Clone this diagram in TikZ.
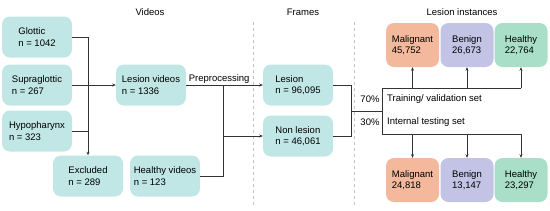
\documentclass[tikz,border=0pt]{standalone}
\usepackage{fontspec}
\setmainfont{Liberation Sans}
\usetikzlibrary{arrows.meta}
\definecolor{tealbox}{HTML}{C0E6E6}
\definecolor{malbox}{HTML}{F4B89C}
\definecolor{benbox}{HTML}{C3C3E6}
\definecolor{heabox}{HTML}{A9DEC9}
\tikzset{
  box/.style={fill=tealbox,rounded corners=8pt,align=left,minimum width=70pt,minimum height=41pt,inner sep=3pt},
  inst/.style={rounded corners=8pt,align=left,minimum width=53pt,minimum height=44pt,inner sep=3pt},
  link/.style={line width=0.8pt,draw=black!80},
  arr/.style={link,-{Stealth[length=3.5pt,width=3pt]}},
  sep/.style={draw=black!25,line width=0.9pt,dash pattern=on 3pt off 3pt},
  lbl/.style={inner sep=1pt}
}
\begin{document}
\begin{tikzpicture}[x=1pt,y=-1pt,font=\fontsize{9.5}{11.5}\selectfont]
\useasboundingbox (0,0) rectangle (550,210);
\draw[sep] (253,22)--(253,208);
\draw[sep] (354,22)--(354,208);
\node (tvid) at (150,12) {Videos};
\node (tfra) at (303,12) {Frames};
\node (tins) at (462,12) {Lesion instances};
\node[box] (glottic) at (37,37) {Glottic\\n = 1042};
\node[box] (supra) at (37,85) {Supraglottic\\n = 267};
\node[box] (hypo) at (37,131) {Hypopharynx\\n = 323};
\node[box] (excl) at (88,176) {Excluded\\n = 289};
\node[box] (lesv) at (151,85) {Lesion videos\\n = 1336};
\node[box] (heav) at (165,176) {Healthy videos\\n = 123};
\node[box] (lesf) at (298,85) {Lesion\\n = 96,095};
\node[box] (nonf) at (298,136) {Non lesion\\n = 46,061};
\node[inst,fill=malbox] (mal1) at (412.5,45) {Malignant\\45,752};
\node[inst,fill=benbox] (ben1) at (467,45) {Benign\\26,673};
\node[inst,fill=heabox] (hea1) at (521,45) {Healthy\\22,764};
\node[inst,fill=malbox] (mal2) at (412.5,180) {Malignant\\24,818};
\node[inst,fill=benbox] (ben2) at (467,180) {Benign\\13,147};
\node[inst,fill=heabox] (hea2) at (521,180) {Healthy\\23,297};
\draw[arr] (glottic.east) -| (excl.north);
\draw[link] (hypo.east) -- (hypo.east -| excl.north);
\draw[arr] (supra.east) -- (lesv.west);
\draw[arr] (lesv.east) -- node[lbl,above,pos=0.43] (prep) {Preprocessing} (lesf.west);
\coordinate (split) at (223,85);
\draw[link] (heav.east) -| (split);
\draw[arr] (split |- nonf.west) -- (nonf.west);
\coordinate (merge) at (351,111);
\draw[link] (lesf.east) -| (merge);
\draw[link] (nonf.east) -| (merge);
\coordinate (up) at (382,88);
\coordinate (down) at (382,134);
\draw[link] (merge) -- (up |- merge);
\draw[link] (hea1.south |- up) -- (up) -- (down) -- (hea2.north |- down);
\foreach \b in {mal1,ben1,hea1}
  \draw[arr] (\b.south |- up) -- (\b.south);
\foreach \b in {mal2,ben2,hea2}
  \draw[arr] (\b.north |- down) -- (\b.north);
\node[lbl] (p70) at (370,99) {70\%};
\node[lbl,anchor=west] (train) at (386,99) {Training/ validation set};
\node[lbl] (p30) at (370,122) {30\%};
\node[lbl,anchor=west] (test) at (386,122) {Internal testing set};
\end{tikzpicture}
\end{document}
